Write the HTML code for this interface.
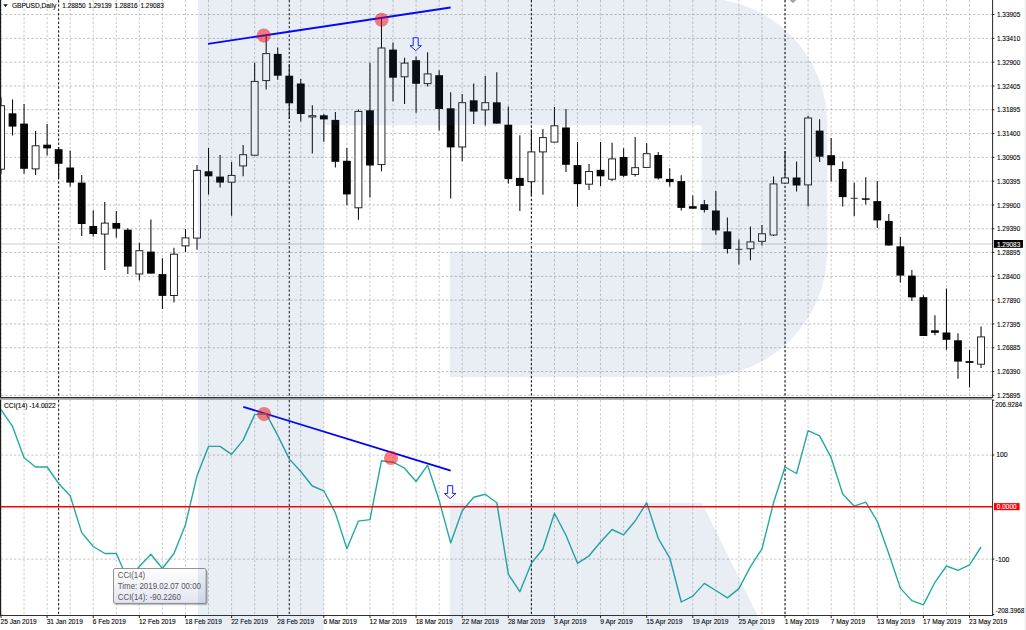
<!DOCTYPE html>
<html><head><meta charset="utf-8"><title>GBPUSD Daily - CCI divergence</title>
<style>
html,body{margin:0;padding:0;background:#fff;}
svg{display:block}
text{font-family:"Liberation Sans",Arial,sans-serif;fill:#000;stroke:#000;stroke-width:0.1px}
</style></head><body>
<svg width="1026" height="630" viewBox="0 0 1026 630">
<rect x="0" y="0" width="1026" height="630" fill="#ffffff"/>
<g stroke="#b0b0b0" stroke-width="0.8" stroke-dasharray="2.3 2.02" fill="none">
<path d="M1.00 0V396.7" stroke="#bababa"/><path d="M24.06 0V396.7" stroke="#bababa"/><path d="M47.12 0V396.7" stroke="#bababa"/><path d="M70.18 0V396.7" stroke="#bababa"/><path d="M93.24 0V396.7" stroke="#bababa"/><path d="M116.30 0V396.7" stroke="#bababa"/><path d="M139.36 0V396.7" stroke="#bababa"/><path d="M162.42 0V396.7" stroke="#bababa"/><path d="M185.48 0V396.7" stroke="#bababa"/><path d="M208.54 0V396.7" stroke="#bababa"/><path d="M231.60 0V396.7" stroke="#bababa"/><path d="M254.66 0V396.7" stroke="#bababa"/><path d="M277.72 0V396.7" stroke="#bababa"/><path d="M300.78 0V396.7" stroke="#bababa"/><path d="M323.84 0V396.7" stroke="#bababa"/><path d="M346.90 0V396.7" stroke="#bababa"/><path d="M369.96 0V396.7" stroke="#bababa"/><path d="M393.02 0V396.7" stroke="#bababa"/><path d="M416.08 0V396.7" stroke="#bababa"/><path d="M439.14 0V396.7" stroke="#bababa"/><path d="M462.20 0V396.7" stroke="#bababa"/><path d="M485.26 0V396.7" stroke="#bababa"/><path d="M508.32 0V396.7" stroke="#bababa"/><path d="M531.38 0V396.7" stroke="#bababa"/><path d="M554.44 0V396.7" stroke="#bababa"/><path d="M577.50 0V396.7" stroke="#bababa"/><path d="M600.56 0V396.7" stroke="#bababa"/><path d="M623.62 0V396.7" stroke="#bababa"/><path d="M646.68 0V396.7" stroke="#bababa"/><path d="M669.74 0V396.7" stroke="#bababa"/><path d="M692.80 0V396.7" stroke="#bababa"/><path d="M715.86 0V396.7" stroke="#bababa"/><path d="M738.92 0V396.7" stroke="#bababa"/><path d="M761.98 0V396.7" stroke="#bababa"/><path d="M785.04 0V396.7" stroke="#bababa"/><path d="M808.10 0V396.7" stroke="#bababa"/><path d="M831.16 0V396.7" stroke="#bababa"/><path d="M854.22 0V396.7" stroke="#bababa"/><path d="M877.28 0V396.7" stroke="#bababa"/><path d="M900.34 0V396.7" stroke="#bababa"/><path d="M923.40 0V396.7" stroke="#bababa"/><path d="M946.46 0V396.7" stroke="#bababa"/><path d="M969.52 0V396.7" stroke="#bababa"/><path d="M1 14.55H992.6"/><path d="M1 38.35H992.6"/><path d="M1 62.15H992.6"/><path d="M1 85.95H992.6"/><path d="M1 109.75H992.6"/><path d="M1 133.55H992.6"/><path d="M1 157.35H992.6"/><path d="M1 181.15H992.6"/><path d="M1 204.95H992.6"/><path d="M1 228.75H992.6"/><path d="M1 252.55H992.6"/><path d="M1 276.35H992.6"/><path d="M1 300.15H992.6"/><path d="M1 323.95H992.6"/><path d="M1 347.75H992.6"/><path d="M1 371.55H992.6"/><path d="M1 395.35H992.6"/>
</g>
<g stroke="#b4b4b4" stroke-width="0.8" stroke-dasharray="2.3 2.02" fill="none">
<path d="M1.00 400V615.5" stroke="#bebebe"/><path d="M24.06 400V615.5" stroke="#bebebe"/><path d="M47.12 400V615.5" stroke="#bebebe"/><path d="M70.18 400V615.5" stroke="#bebebe"/><path d="M93.24 400V615.5" stroke="#bebebe"/><path d="M116.30 400V615.5" stroke="#bebebe"/><path d="M139.36 400V615.5" stroke="#bebebe"/><path d="M162.42 400V615.5" stroke="#bebebe"/><path d="M185.48 400V615.5" stroke="#bebebe"/><path d="M208.54 400V615.5" stroke="#bebebe"/><path d="M231.60 400V615.5" stroke="#bebebe"/><path d="M254.66 400V615.5" stroke="#bebebe"/><path d="M277.72 400V615.5" stroke="#bebebe"/><path d="M300.78 400V615.5" stroke="#bebebe"/><path d="M323.84 400V615.5" stroke="#bebebe"/><path d="M346.90 400V615.5" stroke="#bebebe"/><path d="M369.96 400V615.5" stroke="#bebebe"/><path d="M393.02 400V615.5" stroke="#bebebe"/><path d="M416.08 400V615.5" stroke="#bebebe"/><path d="M439.14 400V615.5" stroke="#bebebe"/><path d="M462.20 400V615.5" stroke="#bebebe"/><path d="M485.26 400V615.5" stroke="#bebebe"/><path d="M508.32 400V615.5" stroke="#bebebe"/><path d="M531.38 400V615.5" stroke="#bebebe"/><path d="M554.44 400V615.5" stroke="#bebebe"/><path d="M577.50 400V615.5" stroke="#bebebe"/><path d="M600.56 400V615.5" stroke="#bebebe"/><path d="M623.62 400V615.5" stroke="#bebebe"/><path d="M646.68 400V615.5" stroke="#bebebe"/><path d="M669.74 400V615.5" stroke="#bebebe"/><path d="M692.80 400V615.5" stroke="#bebebe"/><path d="M715.86 400V615.5" stroke="#bebebe"/><path d="M738.92 400V615.5" stroke="#bebebe"/><path d="M761.98 400V615.5" stroke="#bebebe"/><path d="M785.04 400V615.5" stroke="#bebebe"/><path d="M808.10 400V615.5" stroke="#bebebe"/><path d="M831.16 400V615.5" stroke="#bebebe"/><path d="M854.22 400V615.5" stroke="#bebebe"/><path d="M877.28 400V615.5" stroke="#bebebe"/><path d="M900.34 400V615.5" stroke="#bebebe"/><path d="M923.40 400V615.5" stroke="#bebebe"/><path d="M946.46 400V615.5" stroke="#bebebe"/><path d="M969.52 400V615.5" stroke="#bebebe"/><path d="M1 455.10H992.6"/><path d="M1 559.10H992.6"/>
</g>
<g stroke="#000" stroke-width="0.95" stroke-dasharray="2.4 1.92" fill="none">
<path d="M58.65 0V396.7"/><path d="M58.65 400V615.5"/><path d="M289.25 0V396.7"/><path d="M289.25 400V615.5"/><path d="M531.38 0V396.7"/><path d="M531.38 400V615.5"/><path d="M785.04 0V396.7"/><path d="M785.04 400V615.5"/>
</g>
<path d="M1 243.95H992.6" stroke="#dcdcdc" stroke-width="1.4"/>
<g stroke="#0a0a0a" stroke-width="1">
<path d="M1.00 97.3V173.8" stroke-width="1.05"/><rect x="-2.45" y="105.7" width="6.90" height="63.5" fill="#ffffff" stroke="#1c1c1c" stroke-width="0.95"/>
<path d="M12.53 99.5V135.4" stroke-width="1.05"/><rect x="8.63" y="113.3" width="7.80" height="13.3" fill="#050505" stroke="none"/>
<path d="M24.06 104.0V173.8" stroke-width="1.05"/><rect x="20.16" y="123.6" width="7.80" height="45.2" fill="#050505" stroke="none"/>
<path d="M35.59 130.9V175.0" stroke-width="1.05"/><rect x="32.14" y="145.8" width="6.90" height="23.1" fill="#ffffff" stroke="#1c1c1c" stroke-width="0.95"/>
<path d="M47.12 124.1V155.5" stroke-width="1.05"/><rect x="43.22" y="144.7" width="7.80" height="3.7" fill="#050505" stroke="none"/>
<path d="M58.65 147.0V178.8" stroke-width="1.05"/><rect x="54.75" y="149.2" width="7.80" height="14.6" fill="#050505" stroke="none"/>
<path d="M70.18 150.4V186.4" stroke-width="1.05"/><rect x="66.28" y="167.5" width="7.80" height="15.1" fill="#050505" stroke="none"/>
<path d="M81.71 175.0V236.0" stroke-width="1.05"/><rect x="77.81" y="182.6" width="7.80" height="41.4" fill="#050505" stroke="none"/>
<path d="M93.24 210.2V236.5" stroke-width="1.05"/><rect x="89.34" y="226.0" width="7.80" height="8.0" fill="#050505" stroke="none"/>
<path d="M104.77 201.9V269.9" stroke-width="1.05"/><rect x="101.32" y="223.1" width="6.90" height="11.0" fill="#ffffff" stroke="#1c1c1c" stroke-width="0.95"/>
<path d="M116.30 210.9V237.8" stroke-width="1.05"/><rect x="112.40" y="223.0" width="7.80" height="5.7" fill="#050505" stroke="none"/>
<path d="M127.83 228.2V274.1" stroke-width="1.05"/><rect x="123.93" y="229.7" width="7.80" height="36.9" fill="#050505" stroke="none"/>
<path d="M139.36 242.8V280.4" stroke-width="1.05"/><rect x="135.91" y="250.7" width="6.90" height="23.3" fill="#ffffff" stroke="#1c1c1c" stroke-width="0.95"/>
<path d="M150.89 219.5V273.6" stroke-width="1.05"/><rect x="146.99" y="251.6" width="7.80" height="22.0" fill="#050505" stroke="none"/>
<path d="M162.42 258.3V309.0" stroke-width="1.05"/><rect x="158.52" y="274.1" width="7.80" height="21.8" fill="#050505" stroke="none"/>
<path d="M173.95 247.8V302.5" stroke-width="1.05"/><rect x="170.50" y="254.2" width="6.90" height="41.3" fill="#ffffff" stroke="#1c1c1c" stroke-width="0.95"/>
<path d="M185.48 229.0V252.0" stroke-width="1.05"/><rect x="182.03" y="237.9" width="6.90" height="8.0" fill="#ffffff" stroke="#1c1c1c" stroke-width="0.95"/>
<path d="M197.01 165.0V249.8" stroke-width="1.05"/><rect x="193.56" y="170.4" width="6.90" height="67.7" fill="#ffffff" stroke="#1c1c1c" stroke-width="0.95"/>
<path d="M208.54 148.0V194.6" stroke-width="1.05"/><rect x="204.64" y="171.3" width="7.80" height="5.0" fill="#050505" stroke="none"/>
<path d="M220.07 155.0V187.6" stroke-width="1.05"/><rect x="216.17" y="176.6" width="7.80" height="6.0" fill="#050505" stroke="none"/>
<path d="M231.60 162.0V215.7" stroke-width="1.05"/><rect x="228.15" y="175.4" width="6.90" height="6.8" fill="#ffffff" stroke="#1c1c1c" stroke-width="0.95"/>
<path d="M243.13 145.0V176.3" stroke-width="1.05"/><rect x="239.68" y="154.7" width="6.90" height="11.2" fill="#ffffff" stroke="#1c1c1c" stroke-width="0.95"/>
<path d="M254.66 62.7V155.6" stroke-width="1.05"/><rect x="251.21" y="81.4" width="6.90" height="73.8" fill="#ffffff" stroke="#1c1c1c" stroke-width="0.95"/>
<path d="M266.19 35.0V89.5" stroke-width="1.05"/><rect x="262.74" y="53.6" width="6.90" height="27.0" fill="#ffffff" stroke="#1c1c1c" stroke-width="0.95"/>
<path d="M277.72 47.6V79.7" stroke-width="1.05"/><rect x="273.82" y="53.9" width="7.80" height="21.8" fill="#050505" stroke="none"/>
<path d="M289.25 64.0V119.0" stroke-width="1.05"/><rect x="285.35" y="75.7" width="7.80" height="27.6" fill="#050505" stroke="none"/>
<path d="M300.78 79.0V121.6" stroke-width="1.05"/><rect x="296.88" y="83.5" width="7.80" height="30.5" fill="#050505" stroke="none"/>
<path d="M312.31 105.3V153.5" stroke-width="1.05"/><rect x="308.86" y="115.7" width="6.90" height="1.3" fill="#ffffff" stroke="#1c1c1c" stroke-width="0.95"/>
<path d="M323.84 114.0V141.7" stroke-width="1.05"/><rect x="319.94" y="115.3" width="7.80" height="4.1" fill="#050505" stroke="none"/>
<path d="M335.37 112.0V167.6" stroke-width="1.05"/><rect x="331.47" y="119.9" width="7.80" height="41.9" fill="#050505" stroke="none"/>
<path d="M346.90 148.0V205.2" stroke-width="1.05"/><rect x="343.00" y="160.8" width="7.80" height="33.6" fill="#050505" stroke="none"/>
<path d="M358.43 109.6V219.7" stroke-width="1.05"/><rect x="354.98" y="111.4" width="6.90" height="96.4" fill="#ffffff" stroke="#1c1c1c" stroke-width="0.95"/>
<path d="M369.96 62.7V197.6" stroke-width="1.05"/><rect x="366.06" y="110.3" width="7.80" height="55.2" fill="#050505" stroke="none"/>
<path d="M381.49 18.8V171.3" stroke-width="1.05"/><rect x="378.04" y="48.0" width="6.90" height="116.6" fill="#ffffff" stroke="#1c1c1c" stroke-width="0.95"/>
<path d="M393.02 42.6V101.6" stroke-width="1.05"/><rect x="389.12" y="49.6" width="7.80" height="28.1" fill="#050505" stroke="none"/>
<path d="M404.55 57.7V104.0" stroke-width="1.05"/><rect x="401.10" y="63.1" width="6.90" height="13.7" fill="#ffffff" stroke="#1c1c1c" stroke-width="0.95"/>
<path d="M416.08 56.4V112.8" stroke-width="1.05"/><rect x="412.18" y="60.2" width="7.80" height="23.6" fill="#050505" stroke="none"/>
<path d="M427.61 52.2V86.5" stroke-width="1.05"/><rect x="424.16" y="73.9" width="6.90" height="9.7" fill="#ffffff" stroke="#1c1c1c" stroke-width="0.95"/>
<path d="M439.14 70.2V130.4" stroke-width="1.05"/><rect x="435.24" y="75.2" width="7.80" height="33.8" fill="#050505" stroke="none"/>
<path d="M450.67 92.3V198.4" stroke-width="1.05"/><rect x="446.77" y="108.3" width="7.80" height="39.1" fill="#050505" stroke="none"/>
<path d="M462.20 94.0V161.3" stroke-width="1.05"/><rect x="458.75" y="102.7" width="6.90" height="44.3" fill="#ffffff" stroke="#1c1c1c" stroke-width="0.95"/>
<path d="M473.73 83.5V124.0" stroke-width="1.05"/><rect x="469.83" y="100.3" width="7.80" height="11.3" fill="#050505" stroke="none"/>
<path d="M485.26 76.0V125.4" stroke-width="1.05"/><rect x="481.81" y="102.7" width="6.90" height="7.2" fill="#ffffff" stroke="#1c1c1c" stroke-width="0.95"/>
<path d="M496.79 72.2V123.6" stroke-width="1.05"/><rect x="492.89" y="102.3" width="7.80" height="21.3" fill="#050505" stroke="none"/>
<path d="M508.32 106.4V183.6" stroke-width="1.05"/><rect x="504.42" y="124.7" width="7.80" height="54.4" fill="#050505" stroke="none"/>
<path d="M519.85 135.2V211.0" stroke-width="1.05"/><rect x="515.95" y="177.9" width="7.80" height="8.0" fill="#050505" stroke="none"/>
<path d="M531.38 129.7V195.0" stroke-width="1.05"/><rect x="527.93" y="151.9" width="6.90" height="29.8" fill="#ffffff" stroke="#1c1c1c" stroke-width="0.95"/>
<path d="M542.91 129.0V194.7" stroke-width="1.05"/><rect x="539.46" y="137.6" width="6.90" height="14.3" fill="#ffffff" stroke="#1c1c1c" stroke-width="0.95"/>
<path d="M554.44 106.9V142.5" stroke-width="1.05"/><rect x="550.99" y="125.8" width="6.90" height="16.3" fill="#ffffff" stroke="#1c1c1c" stroke-width="0.95"/>
<path d="M565.97 108.9V172.1" stroke-width="1.05"/><rect x="562.07" y="127.5" width="7.80" height="37.3" fill="#050505" stroke="none"/>
<path d="M577.50 142.0V206.7" stroke-width="1.05"/><rect x="573.60" y="165.1" width="7.80" height="19.0" fill="#050505" stroke="none"/>
<path d="M589.03 164.1V189.9" stroke-width="1.05"/><rect x="585.58" y="171.5" width="6.90" height="12.7" fill="#ffffff" stroke="#1c1c1c" stroke-width="0.95"/>
<path d="M600.56 142.0V186.1" stroke-width="1.05"/><rect x="596.66" y="169.8" width="7.80" height="6.5" fill="#050505" stroke="none"/>
<path d="M612.09 142.7V180.9" stroke-width="1.05"/><rect x="608.64" y="158.9" width="6.90" height="20.3" fill="#ffffff" stroke="#1c1c1c" stroke-width="0.95"/>
<path d="M623.62 148.3V177.1" stroke-width="1.05"/><rect x="619.72" y="157.0" width="7.80" height="18.8" fill="#050505" stroke="none"/>
<path d="M635.15 137.0V176.6" stroke-width="1.05"/><rect x="631.70" y="167.7" width="6.90" height="6.7" fill="#ffffff" stroke="#1c1c1c" stroke-width="0.95"/>
<path d="M646.68 143.2V167.8" stroke-width="1.05"/><rect x="643.23" y="153.7" width="6.90" height="13.7" fill="#ffffff" stroke="#1c1c1c" stroke-width="0.95"/>
<path d="M658.21 152.0V179.6" stroke-width="1.05"/><rect x="654.31" y="155.0" width="7.80" height="23.4" fill="#050505" stroke="none"/>
<path d="M669.74 168.3V186.6" stroke-width="1.05"/><rect x="665.84" y="178.9" width="7.80" height="3.2" fill="#050505" stroke="none"/>
<path d="M681.27 175.3V210.5" stroke-width="1.05"/><rect x="677.37" y="181.1" width="7.80" height="26.8" fill="#050505" stroke="none"/>
<path d="M692.80 195.4V208.7" stroke-width="1.05"/><rect x="688.90" y="206.2" width="7.80" height="2.5" fill="#050505" stroke="none"/>
<path d="M704.33 200.0V212.5" stroke-width="1.05"/><rect x="700.43" y="204.2" width="7.80" height="5.8" fill="#050505" stroke="none"/>
<path d="M715.86 191.0V234.7" stroke-width="1.05"/><rect x="711.96" y="210.5" width="7.80" height="19.9" fill="#050505" stroke="none"/>
<path d="M727.39 217.6V253.5" stroke-width="1.05"/><rect x="723.49" y="231.4" width="7.80" height="17.6" fill="#050505" stroke="none"/>
<path d="M738.92 239.5V264.5" stroke-width="1.05"/><path d="M735.37 249.3H742.47" stroke="#333" stroke-width="1"/>
<path d="M750.45 226.4V260.3" stroke-width="1.05"/><rect x="747.00" y="241.9" width="6.90" height="6.9" fill="#ffffff" stroke="#1c1c1c" stroke-width="0.95"/>
<path d="M761.98 224.9V245.5" stroke-width="1.05"/><rect x="758.53" y="233.8" width="6.90" height="7.5" fill="#ffffff" stroke="#1c1c1c" stroke-width="0.95"/>
<path d="M773.51 176.5V236.0" stroke-width="1.05"/><rect x="770.06" y="183.9" width="6.90" height="51.1" fill="#ffffff" stroke="#1c1c1c" stroke-width="0.95"/>
<path d="M785.04 150.9V183.5" stroke-width="1.05"/><rect x="781.59" y="177.9" width="6.90" height="5.2" fill="#ffffff" stroke="#1c1c1c" stroke-width="0.95"/>
<path d="M796.57 161.5V191.6" stroke-width="1.05"/><rect x="792.67" y="177.5" width="7.80" height="8.0" fill="#050505" stroke="none"/>
<path d="M808.10 115.8V206.6" stroke-width="1.05"/><rect x="804.65" y="118.0" width="6.90" height="66.9" fill="#ffffff" stroke="#1c1c1c" stroke-width="0.95"/>
<path d="M819.63 119.3V162.0" stroke-width="1.05"/><rect x="815.73" y="130.6" width="7.80" height="26.1" fill="#050505" stroke="none"/>
<path d="M831.16 138.1V181.5" stroke-width="1.05"/><rect x="827.26" y="155.2" width="7.80" height="10.0" fill="#050505" stroke="none"/>
<path d="M842.69 161.5V206.6" stroke-width="1.05"/><rect x="838.79" y="169.0" width="7.80" height="28.1" fill="#050505" stroke="none"/>
<path d="M854.22 182.8V216.1" stroke-width="1.05"/><path d="M850.67 198.3H857.77" stroke="#333" stroke-width="1"/>
<path d="M865.75 177.3V204.6" stroke-width="1.05"/><rect x="861.85" y="198.3" width="7.80" height="1.5" fill="#050505" stroke="none"/>
<path d="M877.28 181.0V227.9" stroke-width="1.05"/><rect x="873.38" y="201.1" width="7.80" height="19.3" fill="#050505" stroke="none"/>
<path d="M888.81 214.1V245.5" stroke-width="1.05"/><rect x="884.91" y="220.9" width="7.80" height="24.6" fill="#050505" stroke="none"/>
<path d="M900.34 236.7V282.6" stroke-width="1.05"/><rect x="896.44" y="246.3" width="7.80" height="29.3" fill="#050505" stroke="none"/>
<path d="M911.87 270.1V300.9" stroke-width="1.05"/><rect x="907.97" y="275.6" width="7.80" height="21.8" fill="#050505" stroke="none"/>
<path d="M923.40 295.2V336.0" stroke-width="1.05"/><rect x="919.50" y="297.2" width="7.80" height="38.8" fill="#050505" stroke="none"/>
<path d="M934.93 315.2V335.3" stroke-width="1.05"/><rect x="931.03" y="330.3" width="7.80" height="2.5" fill="#050505" stroke="none"/>
<path d="M946.46 288.4V349.8" stroke-width="1.05"/><rect x="942.56" y="332.5" width="7.80" height="7.3" fill="#050505" stroke="none"/>
<path d="M957.99 333.3V378.7" stroke-width="1.05"/><rect x="954.09" y="340.3" width="7.80" height="21.3" fill="#050505" stroke="none"/>
<path d="M969.52 349.8V387.4" stroke-width="1.05"/><rect x="965.62" y="361.1" width="7.80" height="1.8" fill="#050505" stroke="none"/>
<path d="M981.05 326.5V367.9" stroke-width="1.05"/><rect x="977.60" y="336.9" width="6.90" height="27.3" fill="#ffffff" stroke="#1c1c1c" stroke-width="0.95"/>
</g>
<path d="M208 43.9L450.6 7.5" stroke="#0000ff" stroke-width="1.8" fill="none"/>
<path d="M243.3 406.8L450.7 470.6" stroke="#0000ff" stroke-width="1.8" fill="none"/>
<polyline points="1.00,409.6 12.53,426.4 24.06,457.7 35.59,467.0 47.12,467.0 58.65,483.5 70.18,495.8 81.71,532.6 93.24,546.5 104.77,553.5 116.30,553.5 127.83,580.0 139.36,566.5 150.89,554.3 162.42,568.5 173.95,553.5 185.48,524.7 197.01,475.8 208.54,446.4 220.07,446.4 231.60,454.4 243.13,440.1 254.66,414.6 266.19,413.8 277.72,435.4 289.25,458.9 300.78,471.5 312.31,486.0 323.84,490.8 335.37,512.9 346.90,548.7 358.43,521.1 369.96,519.6 381.49,460.7 393.02,462.2 404.55,468.2 416.08,481.5 427.61,465.2 439.14,500.3 450.67,542.9 462.20,510.8 473.73,497.3 485.26,494.3 496.79,502.7 508.32,574.1 519.85,591.7 531.38,563.3 542.91,549.0 554.44,513.2 565.97,535.3 577.50,563.3 589.03,555.8 600.56,542.0 612.09,529.5 623.62,534.8 635.15,521.0 646.68,502.7 658.21,538.3 669.74,557.8 681.27,602.0 692.80,596.1 704.33,583.4 715.86,590.5 727.39,597.9 738.92,588.6 750.45,566.7 761.98,548.9 773.51,502.8 785.04,467.0 796.57,473.5 808.10,430.6 819.63,435.9 831.16,457.7 842.69,494.0 854.22,506.2 865.75,502.1 877.28,521.3 888.81,553.8 900.34,588.1 911.87,600.6 923.40,604.9 934.93,582.3 946.46,566.0 957.99,570.3 969.52,564.8 981.05,547.0" fill="none" stroke="#24a9a0" stroke-width="1.4" stroke-linejoin="round"/>
<path d="M1 506.7H992.6" stroke="#ff0000" stroke-width="1.6"/>
<circle cx="263.8" cy="35.6" r="7.05" fill="#ff0000" fill-opacity="0.5"/>
<circle cx="381.6" cy="19.7" r="7.05" fill="#ff0000" fill-opacity="0.5"/>
<circle cx="264.1" cy="414.1" r="7.05" fill="#ff0000" fill-opacity="0.5"/>
<circle cx="391" cy="457.9" r="7.05" fill="#ff0000" fill-opacity="0.5"/>
<path d="M413.20 37.75H418.20V45.65H421.40L415.70 50.65L410.00 45.65H413.20Z" fill="#ffffff" stroke="#1212ff" stroke-width="0.95" stroke-linejoin="miter"/>
<path d="M447.70 485.65H452.70V493.55H455.90L450.20 498.55L444.50 493.55H447.70Z" fill="#ffffff" stroke="#1212ff" stroke-width="0.95" stroke-linejoin="miter"/>
<path d="M789.5 0H796.4L792.95 3.2Z" fill="#a6a6a6"/>
<rect x="1024.6" y="0" width="1.4" height="630" fill="#ececec"/>
<path d="M0.55 0V615.5" stroke="#1a1a1a" stroke-width="1.15"/>
<path d="M992.6 0V398M992.6 399.5V615.5" stroke="#262626" stroke-width="1"/>
<path d="M0 397.5H993.1" stroke="#2e2e2e" stroke-width="1"/>
<path d="M0 398.85H992.1" stroke="#9c9c9c" stroke-width="1.7"/>
<path d="M0 615.5H993.1" stroke="#303030" stroke-width="1"/>
<g stroke="#1a1a1a" stroke-width="1"><path d="M992.6 14.55h1.7"/><path d="M992.6 38.35h1.7"/><path d="M992.6 62.15h1.7"/><path d="M992.6 85.95h1.7"/><path d="M992.6 109.75h1.7"/><path d="M992.6 133.55h1.7"/><path d="M992.6 157.35h1.7"/><path d="M992.6 181.15h1.7"/><path d="M992.6 204.95h1.7"/><path d="M992.6 228.75h1.7"/><path d="M992.6 252.55h1.7"/><path d="M992.6 276.35h1.7"/><path d="M992.6 300.15h1.7"/><path d="M992.6 323.95h1.7"/><path d="M992.6 347.75h1.7"/><path d="M992.6 371.55h1.7"/><path d="M992.6 395.35h1.7"/><path d="M992.6 400.20h1.7"/><path d="M992.6 455.00h1.7"/><path d="M992.6 559.10h1.7"/><path d="M992.6 614.50h1.7"/><path d="M1.00 615.5v2.4"/><path d="M47.12 615.5v2.4"/><path d="M93.24 615.5v2.4"/><path d="M139.36 615.5v2.4"/><path d="M185.48 615.5v2.4"/><path d="M231.60 615.5v2.4"/><path d="M277.72 615.5v2.4"/><path d="M323.84 615.5v2.4"/><path d="M369.96 615.5v2.4"/><path d="M416.08 615.5v2.4"/><path d="M462.20 615.5v2.4"/><path d="M508.32 615.5v2.4"/><path d="M554.44 615.5v2.4"/><path d="M600.56 615.5v2.4"/><path d="M646.68 615.5v2.4"/><path d="M692.80 615.5v2.4"/><path d="M738.92 615.5v2.4"/><path d="M785.04 615.5v2.4"/><path d="M831.16 615.5v2.4"/><path d="M877.28 615.5v2.4"/><path d="M923.40 615.5v2.4"/><path d="M969.52 615.5v2.4"/></g>
<path d="M1.2 612.6L3.7 615H1.2Z" fill="#c8c8c8"/>
<g font-size="6.9">
<text x="997" y="17.15" textLength="23.3" lengthAdjust="spacingAndGlyphs">1.33905</text><text x="997" y="40.95" textLength="23.3" lengthAdjust="spacingAndGlyphs">1.33410</text><text x="997" y="64.75" textLength="23.3" lengthAdjust="spacingAndGlyphs">1.32900</text><text x="997" y="88.55" textLength="23.3" lengthAdjust="spacingAndGlyphs">1.32405</text><text x="997" y="112.35" textLength="23.3" lengthAdjust="spacingAndGlyphs">1.31895</text><text x="997" y="136.15" textLength="23.3" lengthAdjust="spacingAndGlyphs">1.31400</text><text x="997" y="159.95" textLength="23.3" lengthAdjust="spacingAndGlyphs">1.30905</text><text x="997" y="183.75" textLength="23.3" lengthAdjust="spacingAndGlyphs">1.30395</text><text x="997" y="207.55" textLength="23.3" lengthAdjust="spacingAndGlyphs">1.29900</text><text x="997" y="231.35" textLength="23.3" lengthAdjust="spacingAndGlyphs">1.29390</text><text x="997" y="255.15" textLength="23.3" lengthAdjust="spacingAndGlyphs">1.28895</text><text x="997" y="278.95" textLength="23.3" lengthAdjust="spacingAndGlyphs">1.28400</text><text x="997" y="302.75" textLength="23.3" lengthAdjust="spacingAndGlyphs">1.27890</text><text x="997" y="326.55" textLength="23.3" lengthAdjust="spacingAndGlyphs">1.27395</text><text x="997" y="350.35" textLength="23.3" lengthAdjust="spacingAndGlyphs">1.26885</text><text x="997" y="374.15" textLength="23.3" lengthAdjust="spacingAndGlyphs">1.26390</text><text x="997" y="397.95" textLength="23.3" lengthAdjust="spacingAndGlyphs">1.25895</text>
<rect x="993.85" y="240" width="29.1" height="7.85" fill="#000"/><text x="997" y="246.5" textLength="23.3" lengthAdjust="spacingAndGlyphs" style="fill:#fff;stroke:#fff">1.29083</text>
<text x="995.2" y="406.7" font-size="7.7" textLength="26.9" lengthAdjust="spacingAndGlyphs">206.9284</text><text x="996.2" y="457.4">100</text><rect x="994" y="503.1" width="25.6" height="7.1" fill="#ff0000"/><text x="996.8" y="509" textLength="19.8" lengthAdjust="spacingAndGlyphs" style="fill:#fff;stroke:#fff">0.0000</text><text x="995.6" y="561.5">-100</text><text x="995.5" y="612.7" font-size="7.7" textLength="28.8" lengthAdjust="spacingAndGlyphs">-208.3968</text>
<text x="0.60" y="623.9" textLength="36.08" lengthAdjust="spacingAndGlyphs">25 Jan 2019</text><text x="46.72" y="623.9" textLength="36.08" lengthAdjust="spacingAndGlyphs">31 Jan 2019</text><text x="92.84" y="623.9" textLength="33.11" lengthAdjust="spacingAndGlyphs">6 Feb 2019</text><text x="138.96" y="623.9" textLength="36.76" lengthAdjust="spacingAndGlyphs">12 Feb 2019</text><text x="185.08" y="623.9" textLength="36.76" lengthAdjust="spacingAndGlyphs">18 Feb 2019</text><text x="231.20" y="623.9" textLength="36.76" lengthAdjust="spacingAndGlyphs">22 Feb 2019</text><text x="277.32" y="623.9" textLength="36.76" lengthAdjust="spacingAndGlyphs">28 Feb 2019</text><text x="323.44" y="623.9" textLength="33.47" lengthAdjust="spacingAndGlyphs">6 Mar 2019</text><text x="369.56" y="623.9" textLength="37.12" lengthAdjust="spacingAndGlyphs">12 Mar 2019</text><text x="415.68" y="623.9" textLength="37.12" lengthAdjust="spacingAndGlyphs">18 Mar 2019</text><text x="461.80" y="623.9" textLength="37.12" lengthAdjust="spacingAndGlyphs">22 Mar 2019</text><text x="507.92" y="623.9" textLength="37.12" lengthAdjust="spacingAndGlyphs">28 Mar 2019</text><text x="554.04" y="623.9" textLength="32.52" lengthAdjust="spacingAndGlyphs">3 Apr 2019</text><text x="600.16" y="623.9" textLength="32.52" lengthAdjust="spacingAndGlyphs">9 Apr 2019</text><text x="646.28" y="623.9" textLength="36.17" lengthAdjust="spacingAndGlyphs">15 Apr 2019</text><text x="692.40" y="623.9" textLength="36.17" lengthAdjust="spacingAndGlyphs">19 Apr 2019</text><text x="738.52" y="623.9" textLength="36.17" lengthAdjust="spacingAndGlyphs">25 Apr 2019</text><text x="784.64" y="623.9" textLength="34.40" lengthAdjust="spacingAndGlyphs">1 May 2019</text><text x="830.76" y="623.9" textLength="34.40" lengthAdjust="spacingAndGlyphs">7 May 2019</text><text x="876.88" y="623.9" textLength="38.04" lengthAdjust="spacingAndGlyphs">13 May 2019</text><text x="923.00" y="623.9" textLength="38.04" lengthAdjust="spacingAndGlyphs">17 May 2019</text><text x="969.12" y="623.9" textLength="38.04" lengthAdjust="spacingAndGlyphs">23 May 2019</text>
<path d="M3.2 4.2H7.8L5.5 7.1Z" fill="#111"/><text x="11.9" y="7.9" textLength="44.3" lengthAdjust="spacingAndGlyphs">GBPUSD,Daily</text><text x="62.30" y="7.9" textLength="23.3" lengthAdjust="spacingAndGlyphs">1.28850</text><text x="88.35" y="7.9" textLength="23.3" lengthAdjust="spacingAndGlyphs">1.29139</text><text x="114.40" y="7.9" textLength="23.3" lengthAdjust="spacingAndGlyphs">1.28816</text><text x="140.45" y="7.9" textLength="23.3" lengthAdjust="spacingAndGlyphs">1.29083</text>
<text x="4" y="408.1" textLength="51.8" lengthAdjust="spacingAndGlyphs">CCI(14) -14.0022</text>
</g>
<defs><linearGradient id="tg" x1="0" y1="0" x2="0" y2="1"><stop offset="0" stop-color="#ffffff"/><stop offset="1" stop-color="#e3e4f0"/></linearGradient></defs>
<rect x="114.8" y="569.9" width="93" height="35.3" rx="1.8" fill="#000" fill-opacity="0.16"/>
<rect x="115.4" y="570.5" width="92" height="34.2" rx="1.6" fill="#000" fill-opacity="0.12"/>
<rect x="113.5" y="568.5" width="92.6" height="34.9" rx="1.6" fill="url(#tg)" stroke="#7f7f7f" stroke-width="0.85"/>
<g font-size="8.7"><text x="117.8" y="578.1" style="fill:#555;stroke:none" textLength="27.3" lengthAdjust="spacingAndGlyphs">CCI(14)</text><text x="117.8" y="588.9" style="fill:#555;stroke:none" textLength="83.2" lengthAdjust="spacingAndGlyphs">Time: 2019.02.07 00:00</text><text x="117.8" y="599.7" style="fill:#555;stroke:none" textLength="63" lengthAdjust="spacingAndGlyphs">CCI(14): -90.2260</text></g>
<path d="M197.9 -2H701.5A125.7 125.7 0 0 1 827.2 125.2V251.2A125.7 125.7 0 0 1 701.5 376.9H449.8V251.2H701.5V125.2H323.7V632H197.9Z M449.8 503.1H702.3L765.3 631.5H449.8Z" fill="#2d5fa0" fill-opacity="0.105" fill-rule="evenodd"/>
</svg>
</body></html>
